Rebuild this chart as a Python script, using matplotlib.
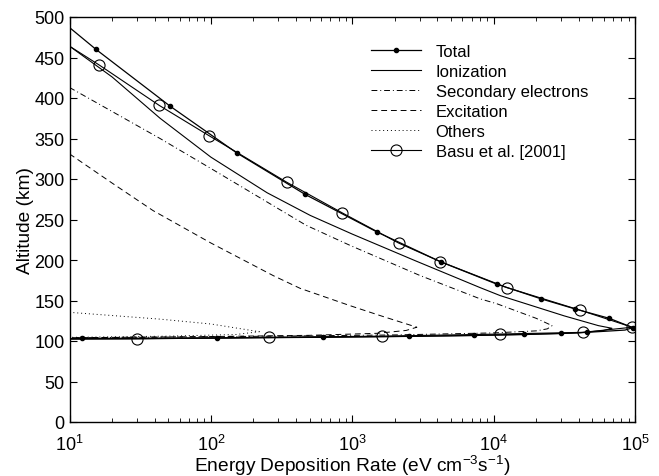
import matplotlib
matplotlib.use("Agg")
import matplotlib.pyplot as plt

plt.rcParams['font.family'] = ['Liberation Sans', 'DejaVu Sans']
plt.rcParams['mathtext.fontset'] = 'custom'
plt.rcParams['mathtext.rm'] = 'Liberation Sans'
plt.rcParams['mathtext.it'] = 'Liberation Sans'

# energy deposition rate (eV cm^-3 s^-1) vs altitude (km)
total_rate = [10, 15.4, 51.4, 153, 464, 1500, 4250, 10600, 21700, 37800, 65800, 96500,
              85000, 46000, 30100, 16500, 7300, 2530, 622, 111, 12.3, 10]
total_alt = [487, 460, 390, 332, 281, 234.5, 197.5, 170, 152, 139.5, 128, 116.5,
             113.5, 110.7, 109.3, 108.3, 106.8, 105.8, 104.8, 103.8, 103.2, 103.1]
total_dots = [1, 2, 3, 4, 5, 6, 7, 8, 9, 10, 11, 13, 14, 15, 16, 17, 18, 19, 20]

ion_rate = [10, 20, 43.7, 100, 250, 505, 1000, 2800, 8000, 11150, 31600, 55000, 68700,
            60000, 40000, 16000, 2500, 600, 100, 10]
ion_alt = [464, 426, 375, 327, 283, 255, 232, 199, 166, 156, 131, 119, 115.7,
           113, 110, 107.8, 105.6, 104.5, 103.5, 102.6]

sec_rate = [10, 43.7, 100, 470, 966, 3000, 8040, 10540, 20000, 25900,
            24000, 20000, 10000, 2000, 300, 30, 10]
sec_alt = [413, 350, 313, 243, 218, 181, 152, 146, 128, 119,
           115, 112.5, 110, 107.5, 106, 104.5, 104]

exc_rate = [10, 20, 39, 100, 277, 428, 966, 1600, 2865,
            2400, 1500, 500, 100, 10]
exc_alt = [331, 295, 261, 221, 180.6, 165, 143.6, 131, 117,
           113, 109.5, 107, 105.5, 104]

oth_rate = [10, 43.7, 100, 220, 150, 50, 10]
oth_alt = [135.4, 127, 121, 111.5, 108, 106, 104.5]

basu_rate = [10, 16.3, 43, 97, 344, 853, 2124, 4200, 12400, 41000, 95500,
             43000, 11150, 1622, 258, 29.9, 10]
basu_alt = [464, 440.5, 391, 353.5, 296, 258, 221, 198, 166, 138, 117,
            110.7, 108.6, 106, 104.6, 102.5, 102.3]

yticks = list(range(0, 501, 50))

fig = plt.figure(figsize=(6.59, 4.77), dpi=100)
ax = fig.add_axes([69.5 / 659, 1 - 423 / 477, (635 - 69.5) / 659, (423 - 18) / 477])

ax.plot(total_rate, total_alt, 'k-', lw=0.9, marker='.', ms=6, markevery=total_dots, label='Total')
ax.plot(ion_rate, ion_alt, 'k-', lw=0.8, label='Ionization')
ax.plot(sec_rate, sec_alt, color='k', lw=0.7, ls=(0, (6, 3, 1, 3)), label='Secondary electrons')
ax.plot(exc_rate, exc_alt, color='k', lw=0.7, ls=(0, (6, 4)), label='Excitation')
ax.plot(oth_rate, oth_alt, color='k', lw=0.7, ls=(0, (1, 3)), label='Others')
ax.plot(basu_rate, basu_alt, 'k-', lw=0.8, marker='o', ms=8, mfc='none', mew=0.8,
        markevery=list(range(1, len(basu_rate) - 1)), label='Basu et al. [2001]')

ax.set_xscale('log')
ax.set_xlim(10, 1e5)
ax.set_ylim(0, 500)
ax.set_yticks(yticks)
ax.tick_params(which='both', direction='in', top=True, right=True, labelsize=13)
ax.tick_params(axis='x', pad=8.5)
ax.tick_params(which='major', length=5)
ax.tick_params(which='minor', length=3)
for s in ax.spines.values():
    s.set_linewidth(1.0)

ax.set_xlabel('Energy Deposition Rate (eV cm$^{-3}$s$^{-1}$)', fontsize=13.8, labelpad=-1)
ax.set_ylabel('Altitude (km)', fontsize=13.8, labelpad=0)

ax.legend(loc='upper left', bbox_to_anchor=(351 / 659, 1 - 32 / 477), frameon=False,
          fontsize=12, handlelength=3.0, handletextpad=0.9, labelspacing=0.3,
          borderpad=0, borderaxespad=0)

fig.savefig('out.png', dpi=100)
